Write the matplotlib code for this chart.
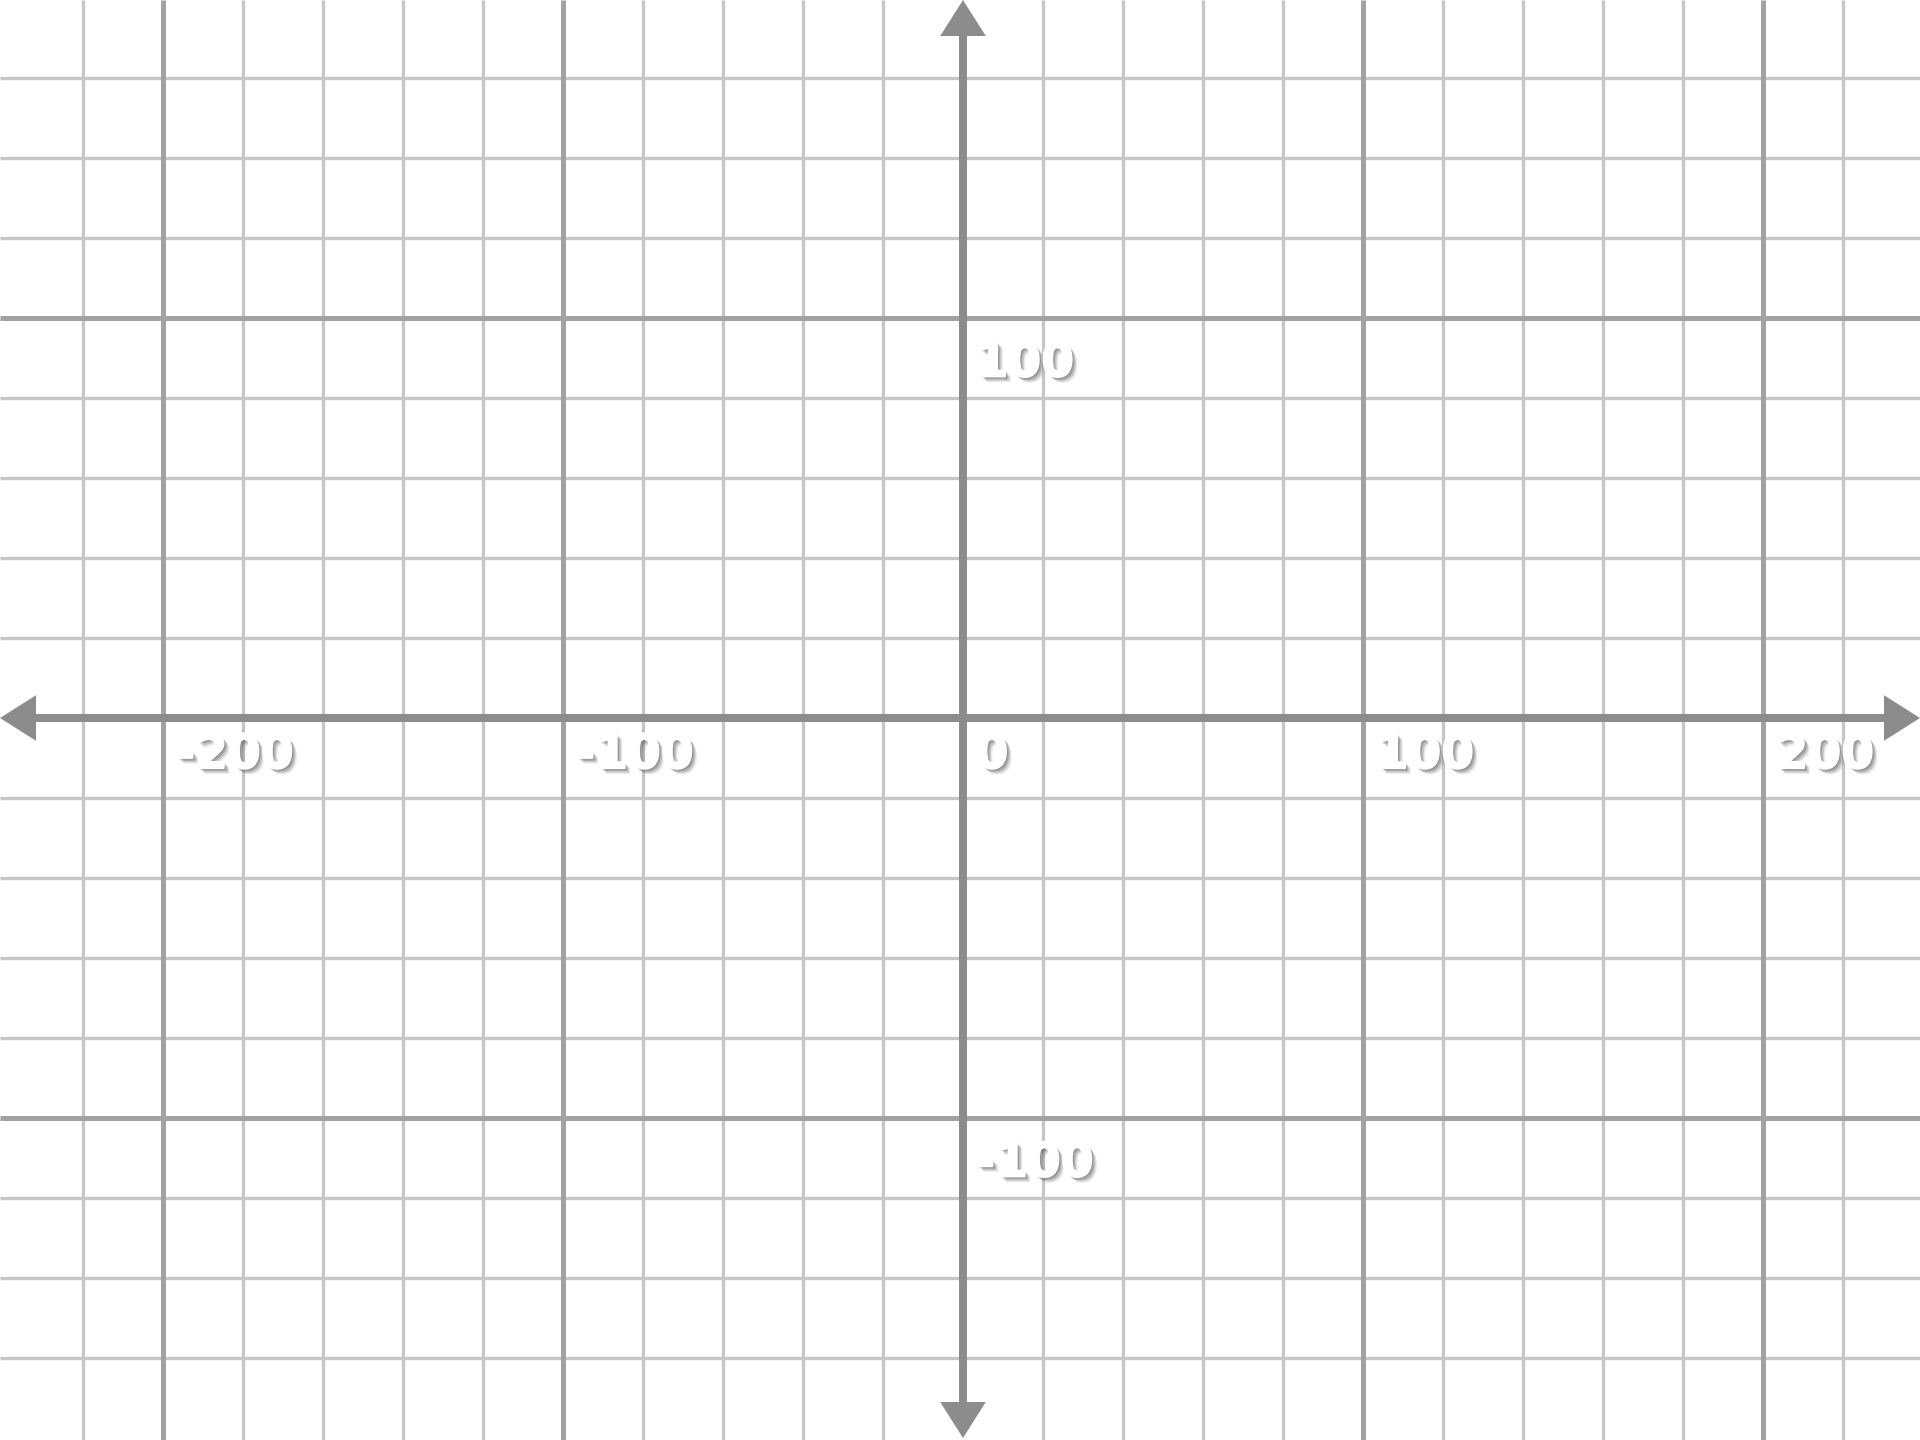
import numpy as np
import matplotlib.pyplot as plt
import matplotlib.patheffects as pe
from matplotlib.patches import Polygon

# view window (graph units)
x_range = (-240.75, 239.25)
y_range = (-180.5, 179.5)

# grid spacing
minor_step = 20
major_step = 100

# axis labels
x_labels = [-200, -100, 0, 100, 200]
y_labels = [100, -100]

axis_color = '#8c8c8c'
major_color = '#a2a2a2'
minor_color = '#c6c6c6'

fig = plt.figure(figsize=(19.2, 14.4), dpi=100)
ax = fig.add_axes([0, 0, 1, 1])
ax.set_xlim(*x_range)
ax.set_ylim(*y_range)
ax.axis('off')

px = 1.0 / 1.389  # one pixel in points

xs = np.arange(-220, 221, minor_step)
ys = np.arange(-160, 161, minor_step)
x_minor = [v for v in xs if v % major_step != 0]
y_minor = [v for v in ys if v % major_step != 0]
x_major = [v for v in xs if v % major_step == 0 and v != 0]
y_major = [v for v in ys if v % major_step == 0 and v != 0]

ax.vlines(x_minor, *y_range, color=minor_color, lw=3.3 * px, zorder=1)
ax.hlines(y_minor, *x_range, color=minor_color, lw=3.3 * px, zorder=1)
ax.vlines(x_major, *y_range, color=major_color, lw=5 * px, zorder=2)
ax.hlines(y_major, *x_range, color=major_color, lw=5 * px, zorder=2)

# arrow heads (sizes in graph units, 4 px per unit)
L, H = 9.0, 5.7
x0, x1 = x_range
y0, y1 = y_range
y0 += 0.5

# axes, stopping at the arrow heads
ax.plot([x0 + L, x1 - L], [0, 0], color=axis_color, lw=8 * px,
        solid_capstyle='butt', zorder=3)
ax.plot([0, 0], [y0 + L, y1 - L], color=axis_color, lw=8 * px,
        solid_capstyle='butt', zorder=3)

heads = [
    [(x0, 0), (x0 + L, H), (x0 + L, -H)],
    [(x1, 0), (x1 - L, H), (x1 - L, -H)],
    [(0, y1), (H, y1 - L), (-H, y1 - L)],
    [(0, y0), (H, y0 + L), (-H, y0 + L)],
]
for h in heads:
    ax.add_patch(Polygon(h, closed=True, color=axis_color, lw=0, zorder=4))

shadow = [
    pe.SimplePatchShadow(offset=(1.0, -1.0), shadow_rgbFace='#333333', alpha=0.25),
    pe.SimplePatchShadow(offset=(2.0, -2.0), shadow_rgbFace='#333333', alpha=0.22),
    pe.SimplePatchShadow(offset=(3.0, -3.0), shadow_rgbFace='#333333', alpha=0.18),
    pe.SimplePatchShadow(offset=(4.0, -4.0), shadow_rgbFace='#333333', alpha=0.10),
    pe.Stroke(linewidth=1.2, foreground='white'),
    pe.Normal(),
]

def label(x, y, s, dy):
    ax.annotate(s, (x, y), xytext=(9, dy), textcoords='offset points',
                ha='left', va='top', fontsize=34, fontweight='bold',
                family='DejaVu Sans', color='white', zorder=5,
                path_effects=shadow)

for v in x_labels:
    label(v, 0, str(v), -11)
for v in y_labels:
    label(0, v, str(v), -17)

fig.savefig('out.png', dpi=100)
